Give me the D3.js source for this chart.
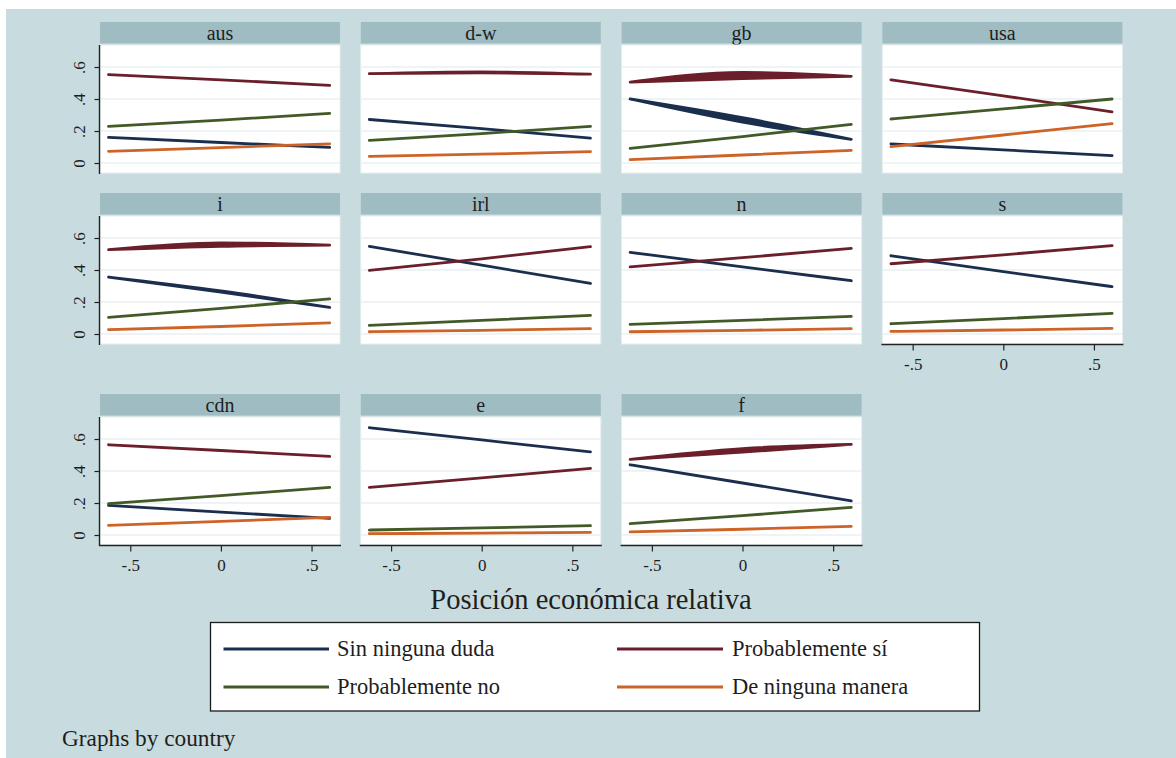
<!DOCTYPE html>
<html>
<head>
<meta charset="utf-8">
<script src="https://cdn.jsdelivr.net/npm/d3@7"></script>
<style>
  html, body { margin: 0; padding: 0; background: #ffffff; }
  svg { display: block; }
  text { font-family: "Liberation Serif", "Times New Roman", serif; fill: #1e1e1e; }
</style>
</head>
<body>
<svg id="chart" width="1176" height="758"></svg>
<script>
// Panels, one per country, in reading order (4 per row)
const countries = ["aus", "d-w", "gb", "usa", "i", "irl", "n", "s", "cdn", "e", "f"];

// Outcome categories and their line colours
const seriesLabels = ["Sin ninguna duda", "Probablemente sí", "Probablemente no", "De ninguna manera"];
const seriesColors = ["#1b2e4e", "#6a1f2a", "#425a27", "#cd6326"];

// Relative economic position at which the predictions are read
const xPoints = [-0.62, 0, 0.6];

// Predicted probability for each country at xPoints
const sinNingunaDuda = [
  [0.160, 0.128, 0.098], [0.272, 0.215, 0.156], [0.400, 0.255, 0.148], [0.119, 0.082, 0.046],
  [0.356, 0.262, 0.166], [0.548, 0.430, 0.316], [0.510, 0.420, 0.333], [0.489, 0.390, 0.296],
  [0.185, 0.143, 0.104], [0.671, 0.594, 0.519], [0.439, 0.325, 0.214]
];
const probablementeSi = [
  [0.552, 0.520, 0.485], [0.558, 0.563, 0.555], [0.505, 0.528, 0.542], [0.520, 0.420, 0.320],
  [0.527, 0.548, 0.555], [0.398, 0.470, 0.546], [0.420, 0.477, 0.535], [0.439, 0.495, 0.552],
  [0.564, 0.528, 0.491], [0.298, 0.357, 0.416], [0.473, 0.518, 0.566]
];
const probablementeNo = [
  [0.229, 0.268, 0.310], [0.141, 0.184, 0.229], [0.091, 0.165, 0.241], [0.275, 0.338, 0.400],
  [0.104, 0.160, 0.219], [0.054, 0.085, 0.116], [0.060, 0.085, 0.110], [0.064, 0.096, 0.129],
  [0.196, 0.246, 0.298], [0.031, 0.044, 0.058], [0.071, 0.121, 0.173]
];
const deNingunaManera = [
  [0.073, 0.096, 0.120], [0.041, 0.055, 0.071], [0.021, 0.050, 0.079], [0.102, 0.175, 0.246],
  [0.027, 0.047, 0.069], [0.014, 0.023, 0.033], [0.014, 0.023, 0.033], [0.016, 0.025, 0.035],
  [0.060, 0.085, 0.110], [0.008, 0.012, 0.016], [0.019, 0.036, 0.054]
];

// Spread of the individual predictions around the middle of the range
const sinNingunaDudaSpread  = [0, 0, 0.028, 0, 0.008, 0, 0, 0, 0, 0, 0];
const probablementeSiSpread = [0, 0.007, 0.038, 0, 0.022, 0, 0, 0, 0, 0, 0.022];
const probablementeNoSpread = [0, 0, 0, 0, 0, 0, 0, 0, 0, 0, 0];
const deNingunaManeraSpread = [0, 0, 0, 0, 0, 0, 0, 0, 0, 0, 0];

// Axis ticks and labels
const yTicks = [0, 0.2, 0.4, 0.6];
const yTickLabels = ["0", ".2", ".4", ".6"];
const xTicks = [-0.5, 0, 0.5];
const xTickLabels = ["-.5", "0", ".5"];

const xTitle = "Posición económica relativa";
const noteText = "Graphs by country";

const seriesValues = [sinNingunaDuda, probablementeSi, probablementeNo, deNingunaManera];
const seriesSpread = [sinNingunaDudaSpread, probablementeSiSpread, probablementeNoSpread, deNingunaManeraSpread];

// ---- layout ----
const W = 1176, H = 758;
const colLefts = [100, 360.8, 621.6, 882.4];
const rowTops = [22, 193, 394];
const panelW = 240, stripH = 21.5, plotOffset = 23, plotH = 128;
const nCols = 4;
const serif = "Liberation Serif, Times New Roman, serif";

const svg = d3.select("#chart");

// outer background
svg.append("rect").attr("x", 6).attr("y", 9).attr("width", W - 6).attr("height", H - 9)
  .attr("fill", "#c8dcdf");

// which panels carry an x axis: the last one in each column
const lastRowOfCol = {};
countries.forEach((c, k) => { lastRowOfCol[k % nCols] = k; });
const xAxisPanels = new Set(Object.values(lastRowOfCol));

countries.forEach((country, k) => {
  const row = Math.floor(k / nCols), col = k % nCols;
  const left = colLefts[col], top = rowTops[row];
  const plotTop = top + plotOffset;

  const x = d3.scaleLinear().domain([-0.667, 0.657]).range([left, left + panelW]);
  const y = d3.scaleLinear().domain([-0.0625, 0.7375]).range([plotTop + plotH, plotTop]);

  const g = svg.append("g").attr("class", "panel");

  // title strip
  g.append("rect").attr("x", left).attr("y", top).attr("width", panelW).attr("height", stripH)
    .attr("fill", "#9fbcc3");
  g.append("text").attr("x", left + panelW / 2).attr("y", top + 17.5)
    .attr("text-anchor", "middle").attr("font-size", 20).text(country);

  // plot region
  g.append("rect").attr("x", left).attr("y", plotTop).attr("width", panelW).attr("height", plotH)
    .attr("fill", "#ffffff").attr("stroke", "#e6eef0").attr("stroke-width", 1);

  // grid
  g.selectAll("line.grid").data(yTicks).join("line").attr("class", "grid")
    .attr("x1", left).attr("x2", left + panelW)
    .attr("y1", d => y(d)).attr("y2", d => y(d))
    .attr("stroke", "#e9f1f2").attr("stroke-width", 1.6);

  // prediction lines (drawn as a narrow band where predictions spread)
  seriesValues.forEach((vals, s) => {
    const v = vals[k];
    const spread = seriesSpread[s][k];
    const pts = xPoints.map((xv, i) => ({ x: xv, lo: v[i], hi: v[i] + (i === 1 ? spread : 0) }));
    const area = d3.area()
      .x(d => x(d.x)).y0(d => y(d.lo)).y1(d => y(d.hi))
      .curve(d3.curveMonotoneX);
    g.append("path").attr("d", area(pts))
      .attr("fill", seriesColors[s]).attr("stroke", seriesColors[s])
      .attr("stroke-width", 2.8).attr("stroke-linejoin", "round");
  });

  // y axis on the first column
  if (col === 0) {
    const ya = g.append("g").attr("transform", `translate(${left - 0.5},0)`)
      .call(d3.axisLeft(y).tickValues(yTicks).tickSize(5).tickFormat((d, i) => yTickLabels[i]));
    ya.select(".domain").attr("d", `M0,${plotTop}V${plotTop + plotH + 1}`)
      .attr("stroke", "#222").attr("stroke-width", 1.4);
    ya.selectAll(".tick line").attr("stroke", "#222").attr("stroke-width", 1.2);
    ya.selectAll(".tick text")
      .attr("transform", "rotate(-90)")
      .attr("x", 0).attr("y", -15).attr("dy", 0)
      .attr("text-anchor", "middle")
      .attr("font-family", serif).attr("font-size", 17)
      .attr("fill", "#2a2a2a");
  }

  // x axis under the last panel of each column
  if (xAxisPanels.has(k)) {
    const xa = g.append("g").attr("transform", `translate(0,${plotTop + plotH + 0.5})`)
      .call(d3.axisBottom(x).tickValues(xTicks).tickSize(6).tickFormat((d, i) => xTickLabels[i]));
    xa.select(".domain").attr("d", `M${left - 1},0H${left + panelW + 1}`)
      .attr("stroke", "#222").attr("stroke-width", 1.4);
    xa.selectAll(".tick line").attr("stroke", "#222").attr("stroke-width", 1.2);
    xa.selectAll(".tick text").attr("y", 25).attr("dy", 0)
      .attr("font-family", serif).attr("font-size", 17)
      .attr("fill", "#2a2a2a");
  }
});

// x axis title
svg.append("text").attr("x", 591).attr("y", 609).attr("text-anchor", "middle")
  .attr("font-size", 28.5).text(xTitle);

// legend
const legend = svg.append("g");
legend.append("rect").attr("x", 210.5).attr("y", 622.5).attr("width", 769).attr("height", 88.5)
  .attr("fill", "#ffffff").attr("stroke", "#1a1a1a").attr("stroke-width", 1.3);
const legendCols = [{ x1: 223.5, x2: 329, tx: 337 }, { x1: 617, x2: 723, tx: 732 }];
const legendRows = [649, 687];
seriesLabels.forEach((lab, s) => {
  const c = legendCols[s % 2], r = legendRows[Math.floor(s / 2)];
  legend.append("line").attr("x1", c.x1).attr("x2", c.x2).attr("y1", r).attr("y2", r)
    .attr("stroke", seriesColors[s]).attr("stroke-width", 3);
  legend.append("text").attr("x", c.tx).attr("y", r + 6.5).attr("font-size", 22.5).text(lab);
});

// note
svg.append("text").attr("x", 62).attr("y", 746).attr("font-size", 23.3).text(noteText);
</script>
</body>
</html>
